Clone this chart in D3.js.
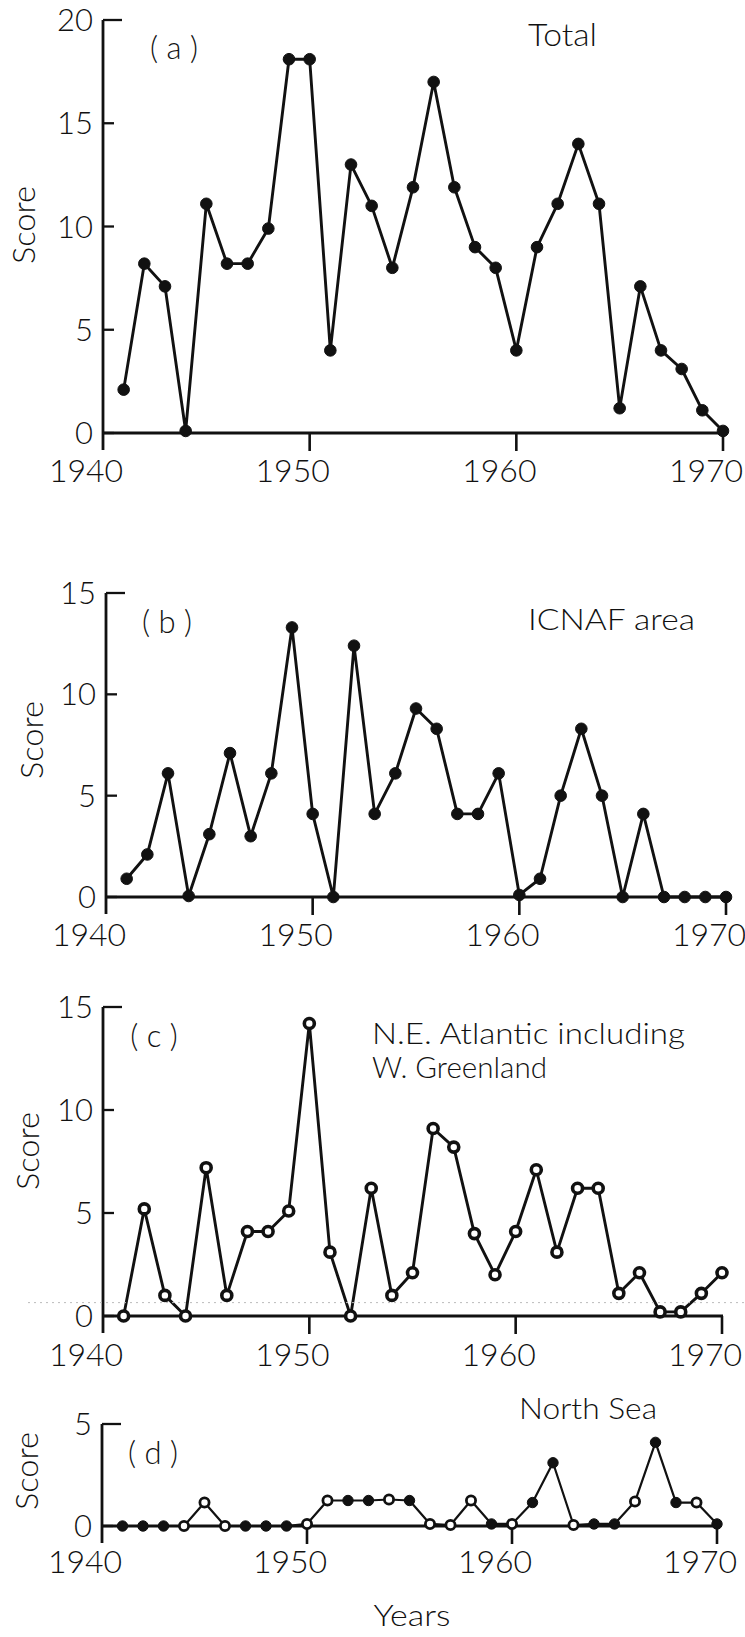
<!DOCTYPE html>
<html>
<head>
<meta charset="utf-8">
<script src="https://cdn.jsdelivr.net/npm/d3@7/dist/d3.min.js"></script>
<style>
  html, body { margin: 0; padding: 0; background: #fff; }
  svg { display: block; }
  text { font-family: Lato, "Open Sans", "DejaVu Sans", sans-serif; fill: #111; }
</style>
</head>
<body>
<svg id="chart" width="745" height="1637"></svg>
<script>
// ---------------- data ----------------
const years = [1941,1942,1943,1944,1945,1946,1947,1948,1949,1950,
               1951,1952,1953,1954,1955,1956,1957,1958,1959,1960,
               1961,1962,1963,1964,1965,1966,1967,1968,1969,1970];

// (a) Total
const totalScore = [2.1, 8.2, 7.1, 0.1, 11.1, 8.2, 8.2, 9.9, 18.1, 18.1,
                    4.0, 13.0, 11.0, 8.0, 11.9, 17.0, 11.9, 9.0, 8.0, 4.0,
                    9.0, 11.1, 14.0, 11.1, 1.2, 7.1, 4.0, 3.1, 1.1, 0.1];
// (b) ICNAF area
const icnafScore = [0.9, 2.1, 6.1, 0.05, 3.1, 7.1, 3.0, 6.1, 13.3, 4.1,
                    0, 12.4, 4.1, 6.1, 9.3, 8.3, 4.1, 4.1, 6.1, 0.1,
                    0.9, 5.0, 8.3, 5.0, 0, 4.1, 0, 0, 0, 0];
// (c) N.E. Atlantic including W. Greenland
const neAtlanticScore = [0, 5.2, 1.0, 0, 7.2, 1.0, 4.1, 4.1, 5.1, 14.2,
                         3.1, 0, 6.2, 1.0, 2.1, 9.1, 8.2, 4.0, 2.0, 4.1,
                         7.1, 3.1, 6.2, 6.2, 1.1, 2.1, 0.2, 0.2, 1.1, 2.1];
// (d) North Sea
const northSeaScore = [0, 0, 0, 0, 1.15, 0, 0, 0, 0, 0.1,
                       1.25, 1.25, 1.25, 1.3, 1.25, 0.1, 0.05, 1.25, 0.1, 0.1,
                       1.15, 3.1, 0.05, 0.1, 0.1, 1.2, 4.1, 1.15, 1.15, 0.1];
// marker style in (d): 1 = open circle, 0 = filled
const northSeaOpen = [0,0,0,1,1,1,0,0,0,1,
                      1,0,0,1,0,1,1,1,0,1,
                      0,0,1,0,0,1,0,0,1,0];

const xTickYears = [1940, 1950, 1960, 1970];
const yTicksTotal = [0, 5, 10, 15, 20];
const yTicksRegion = [0, 5, 10, 15];
const yTicksNorthSea = [0, 5];

const labelA = "( a )", titleA = "Total";
const labelB = "( b )", titleB = "ICNAF area";
const labelC = "( c )", titleC1 = "N.E.  Atlantic including", titleC2 = "W. Greenland";
const labelD = "( d )", titleD = "North Sea";
const yAxisTitle = "Score";
const xAxisTitle = "Years";

// ---------------- drawing ----------------
const svg = d3.select("#chart");

function panel(cfg) {
  const g = svg.append("g");
  const x = d3.scaleLinear().domain([1940, 1970]).range([cfg.x0, cfg.x1]);
  const y = d3.scaleLinear().domain([0, cfg.yMax]).range([cfg.y0, cfg.yTop]);

  // y axis line (extends a bit below the zero line)
  g.append("line")
    .attr("x1", cfg.x0).attr("x2", cfg.x0)
    .attr("y1", y(cfg.yMax)).attr("y2", cfg.y0 + 17)
    .attr("stroke", "#111").attr("stroke-width", 2.8);
  // y ticks (pointing inward)
  g.selectAll(".yt").data(cfg.yTicks).enter().append("line")
    .attr("x1", cfg.x0)
    .attr("x2", d => cfg.x0 + (d === cfg.yMax ? 19 : 11))
    .attr("y1", d => y(d)).attr("y2", d => y(d))
    .attr("stroke", "#111").attr("stroke-width", 2.3);
  g.selectAll(".yl").data(cfg.yTicks).enter().append("text")
    .attr("x", cfg.x0 - 10)
    .attr("y", d => y(d))
    .attr("dy", "0.36em")
    .attr("text-anchor", "end")
    .attr("font-size", 31)
    .attr("font-weight", 300)
    .text(d => d);

  // x axis (zero line) + downward ticks
  g.append("line")
    .attr("x1", cfg.x0).attr("x2", x(1970) + 1)
    .attr("y1", y(0)).attr("y2", y(0))
    .attr("stroke", "#111").attr("stroke-width", 2.8);
  g.selectAll(".xt").data(xTickYears.filter(v => v > 1940)).enter().append("line")
    .attr("x1", d => x(d)).attr("x2", d => x(d))
    .attr("y1", y(0)).attr("y2", y(0) + 18)
    .attr("stroke", "#111").attr("stroke-width", 2.6);
  g.selectAll(".xl").data(xTickYears).enter().append("text")
    .attr("x", d => x(d) - 17)
    .attr("y", y(0) + cfg.xLabelDy)
    .attr("dy", "0.36em")
    .attr("text-anchor", "middle")
    .attr("font-size", 32)
    .attr("font-weight", 300)
    .text(d => d);

  // y axis title
  g.append("text")
    .attr("transform", `translate(${cfg.scoreX},${cfg.scoreY}) rotate(-90)`)
    .attr("text-anchor", "middle")
    .attr("dy", "0.36em")
    .attr("font-size", 32)
    .attr("font-weight", 300)
    .attr("textLength", 78).attr("lengthAdjust", "spacingAndGlyphs")
    .text(yAxisTitle);

  // panel label and title(s)
  g.append("text")
    .attr("x", cfg.labelX).attr("y", cfg.labelY)
    .attr("dy", "0.36em").attr("text-anchor", "middle")
    .attr("font-size", 31).attr("font-weight", 300)
    .text(cfg.label);
  cfg.titles.forEach(t => {
    g.append("text")
      .attr("x", t.x).attr("y", t.y).attr("dy", "0.36em")
      .attr("font-size", t.size).attr("font-weight", 300)
      .attr("textLength", t.len).attr("lengthAdjust", "spacingAndGlyphs")
      .text(t.text);
  });

  // series line + markers
  const pts = years.map((yr, i) => ({ yr, v: cfg.values[i], open: cfg.open ? cfg.open[i] : cfg.allOpen }));
  g.append("path")
    .datum(pts)
    .attr("fill", "none")
    .attr("stroke", "#111")
    .attr("stroke-width", cfg.lineW)
    .attr("stroke-linejoin", "round")
    .attr("d", d3.line().x(d => x(d.yr)).y(d => y(d.v)));
  g.selectAll(".pt").data(pts).enter().append("circle")
    .attr("cx", d => x(d.yr)).attr("cy", d => y(d.v))
    .attr("r", d => d.open ? cfg.rOpen : cfg.rFill)
    .attr("fill", d => d.open ? "#fff" : "#111")
    .attr("stroke", "#111")
    .attr("stroke-width", d => d.open ? cfg.openW : 1);
  return { x, y };
}

panel({
  x0: 103, x1: 723, y0: 433, yTop: 20, yMax: 20, yTicks: yTicksTotal,
  values: totalScore, allOpen: 0, lineW: 2.9, rFill: 5.8, rOpen: 5, openW: 3.4,
  xLabelDy: 37, scoreX: 23, scoreY: 225,
  label: labelA, labelX: 174, labelY: 48,
  titles: [{ text: titleA, x: 528, y: 35, size: 31, len: 69 }]
});

panel({
  x0: 106, x1: 726, y0: 897, yTop: 593, yMax: 15, yTicks: yTicksRegion,
  values: icnafScore, allOpen: 0, lineW: 2.9, rFill: 5.8, rOpen: 5, openW: 3.4,
  xLabelDy: 37, scoreX: 31, scoreY: 740,
  label: labelB, labelX: 167, labelY: 622,
  titles: [{ text: titleB, x: 528, y: 620, size: 29, len: 167 }]
});

const pc = panel({
  x0: 103, x1: 722, y0: 1316, yTop: 1007, yMax: 15, yTicks: yTicksRegion,
  values: neAtlanticScore, allOpen: 1, lineW: 2.9, rFill: 5.8, rOpen: 5, openW: 3.6,
  xLabelDy: 38, scoreX: 27, scoreY: 1151,
  label: labelC, labelX: 154, labelY: 1036,
  titles: [
    { text: titleC1, x: 372, y: 1034, size: 29, len: 313 },
    { text: titleC2, x: 372, y: 1068, size: 29, len: 175 }
  ]
});
// faint dotted scan line across panel (c)
svg.append("line")
  .attr("x1", 28).attr("x2", 745)
  .attr("y1", pc.y(0.65)).attr("y2", pc.y(0.65))
  .attr("stroke", "#bbb").attr("stroke-width", 1)
  .attr("stroke-dasharray", "2,4");

panel({
  x0: 102, x1: 717, y0: 1526, yTop: 1424, yMax: 5, yTicks: yTicksNorthSea,
  values: northSeaScore, open: northSeaOpen, lineW: 2.2, rFill: 5.2, rOpen: 4.6, openW: 2.8,
  xLabelDy: 35, scoreX: 26, scoreY: 1471,
  label: labelD, labelX: 153, labelY: 1453,
  titles: [{ text: titleD, x: 519, y: 1409, size: 29, len: 138 }]
});

svg.append("text")
  .attr("x", 412).attr("y", 1616).attr("dy", "0.36em")
  .attr("text-anchor", "middle")
  .attr("font-size", 29).attr("font-weight", 300)
  .attr("textLength", 77).attr("lengthAdjust", "spacingAndGlyphs")
  .text(xAxisTitle);
</script>
</body>
</html>
